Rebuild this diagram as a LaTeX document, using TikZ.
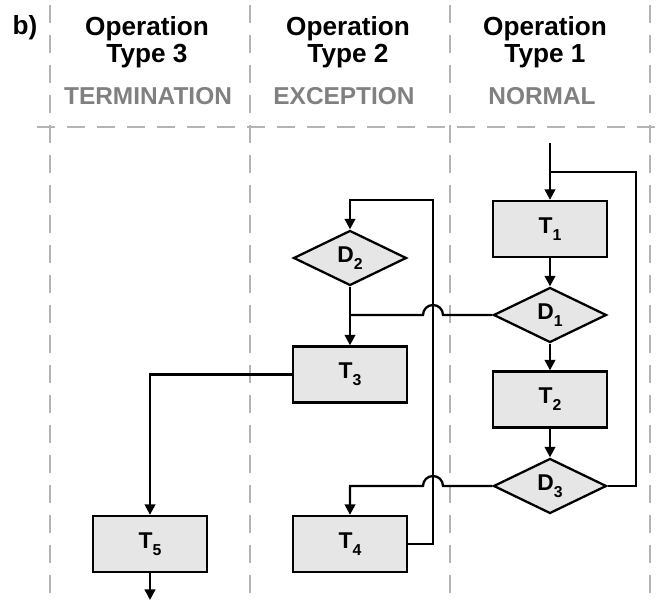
\documentclass[tikz,border=0pt]{standalone}
\usepackage{fontspec}
\setmainfont{Liberation Sans}
\usetikzlibrary{shapes.geometric, arrows.meta, calc}

\definecolor{lanegray}{RGB}{180,180,180}
\definecolor{boxgray}{RGB}{230,230,230}
\definecolor{typegray}{RGB}{128,128,128}

% label with a lowered index, e.g. \lbl{T}{1}
\newcommand{\lbl}[2]{#1\raisebox{-4pt}{\fontsize{9}{9}\selectfont #2}}

\begin{document}
\begin{tikzpicture}[
    task/.style={draw, line width=1.3pt, fill=boxgray, minimum width=2.28cm, minimum height=1.12cm,
                 font=\fontsize{13}{13}\selectfont\bfseries},
    decision/.style={diamond, draw, line width=1.3pt, fill=boxgray, aspect=2, inner sep=0pt,
                 minimum width=2.26cm, minimum height=1.1cm, font=\fontsize{13}{13}\selectfont\bfseries},
    link/.style={line width=1.3pt},
    flow/.style={link, -{Triangle[length=0.21cm, width=0.21cm]}},
    lane/.style={lanegray, line width=1.2pt, dash pattern=on 0.36cm off 0.24cm},
    head/.style={font=\fontsize{14.9}{15.9}\selectfont\bfseries, align=center, anchor=base},
    kind/.style={typegray, font=\fontsize{13.9}{14}\selectfont\bfseries, anchor=base}
]
    \useasboundingbox (0,0) rectangle (13.18,12.1);

    % Swimlanes
    \foreach \x in {1,5,9,13}
        \draw[lane] (\x,12.0) -- (\x,0);
    \draw[lane] (0.74,9.56) -- (13.18,9.56);

    % Lane headers (base = baseline of the last line)
    \node[head] (tag) at (0.5,11.4) {b)};
    \node[head] (op3) at (2.94,10.84) {Operation\\Type 3};
    \node[head] (op2) at (6.96,10.84) {Operation\\Type 2};
    \node[head] (op1) at (10.9,10.84) {Operation\\Type 1};
    \node[kind] (term) at (2.96,10.0) {TERMINATION};
    \node[kind] (exc) at (6.88,10.0) {EXCEPTION};
    \node[kind] (norm) at (10.84,10.0) {NORMAL};

    % Normal lane
    \node[task] (T1) at (11,7.52) {\lbl{T}{1}};
    \node[decision] (D1) at (11,5.8) {\lbl{D}{1}};
    \node[task] (T2) at (11,4.11) {\lbl{T}{2}};
    \node[decision] (D3) at (11,2.38) {\lbl{D}{3}};

    % Exception lane
    \node[decision] (D2) at (7,6.94) {\lbl{D}{2}};
    \node[task] (T3) at (7,4.61) {\lbl{T}{3}};
    \node[task] (T4) at (7,1.22) {\lbl{T}{4}};

    % Termination lane
    \node[task] (T5) at (3,1.22) {\lbl{T}{5}};

    % Free ends and corners of the loops
    \coordinate (entry) at (11,9.24);
    \coordinate (merge) at (11,8.66);
    \coordinate (back) at (12.72,8.66);
    \coordinate (ret) at (8.66,8.1);
    \coordinate (exit) at (3,0.1);

    % Main sequence
    \draw[flow] (entry) -- (T1.north);
    \draw[flow] (T1.south) -- (D1.north);
    \draw[flow] (D1.south) -- (T2.north);
    \draw[flow] (T2.south) -- (D3.north);
    \draw[link] (D3.east) -| (back) -- (merge);

    % Exception handling, hopping over the return line
    \draw[link] (D1.west) -- ([xshift=2mm]D1.west -| ret) arc[start angle=0, end angle=180, radius=2mm]
        -- (D1.west -| D2.south);
    \draw[flow] (D2.south) -- (T3.north);
    \draw[flow] (D3.west) -- ([xshift=2mm]D3.west -| ret) arc[start angle=0, end angle=180, radius=2mm]
        -- (D3.west -| T4.north) -- (T4.north);
    \draw[flow] (T4.east) -| (ret) -| (D2.north);

    % Termination
    \draw[flow] (T3.west) -| (T5.north);
    \draw[flow] (T5.south) -- (exit);
\end{tikzpicture}
\end{document}
